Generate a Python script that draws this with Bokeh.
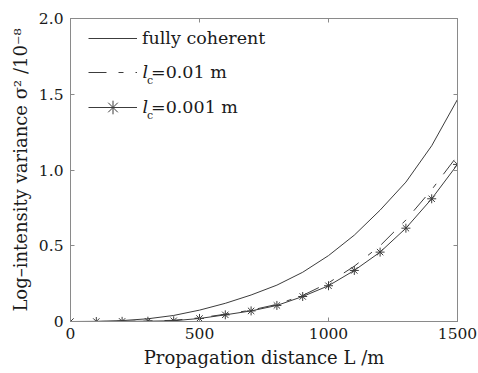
from bokeh.plotting import figure
from bokeh.models import (Range1d, FixedTicker, LinearAxis, Legend, LegendItem, Label,
                          CustomJSTickFormatter)
from bokeh.embed import file_html
from bokeh.resources import INLINE

# ---- data ----
distance = [0, 100, 200, 300, 400, 500, 600, 700, 800, 900, 1000, 1100, 1200, 1300, 1400, 1500]
fully_coherent = [0, 0.001, 0.006, 0.018, 0.04, 0.075, 0.12, 0.175, 0.24, 0.325, 0.435, 0.57, 0.735, 0.92, 1.16, 1.466]
lc_001 = [0, 0, 0.001, 0.003, 0.008, 0.024, 0.048, 0.075, 0.113, 0.172, 0.255, 0.365, 0.5, 0.67, 0.87, 1.095]
lc_0001 = [0, 0, 0.001, 0.002, 0.005, 0.02, 0.044, 0.07, 0.106, 0.165, 0.236, 0.337, 0.458, 0.616, 0.81, 1.037]
x_ticks = [0, 500, 1000, 1500]
y_ticks = [0, 0.5, 1.0, 1.5, 2.0]
y_tick_labels = {0: "0", 0.5: "0.5", 1: "1.0", 1.5: "1.5", 2: "2.0"}
legend_labels = ["fully coherent", "=0.01 m", "=0.001 m"]

FONT = "DejaVu Serif"
LINE = "#3c3c3c"
AXIS = "#8a8a8a"
TEXT = "#1a1a1a"

p = figure(width=477, height=372, output_backend="svg", toolbar_location=None,
           x_range=Range1d(0, 1500), y_range=Range1d(0, 2.0),
           min_border_left=70, min_border_right=20, min_border_top=18, min_border_bottom=51)
p.grid.visible = False
p.outline_line_color = AXIS
p.background_fill_color = "white"

for ax in [p.xaxis[0], p.yaxis[0]]:
    ax.axis_line_color = AXIS
    ax.major_tick_line_color = AXIS
    ax.major_tick_in = 4
    ax.major_tick_out = 0
    ax.minor_tick_line_color = None
    ax.major_label_text_font = FONT
    ax.major_label_text_font_size = "15.5px"
    ax.major_label_text_color = TEXT
    ax.axis_label_text_font = FONT
    ax.axis_label_text_font_size = "18px"
    ax.axis_label_text_font_style = "normal"
    ax.axis_label_text_color = TEXT

p.xaxis.ticker = FixedTicker(ticks=x_ticks)
p.yaxis.ticker = FixedTicker(ticks=y_ticks)
p.yaxis.major_label_overrides = y_tick_labels
p.xaxis.major_label_standoff = 6
p.yaxis.major_label_standoff = 7
p.xaxis.axis_label = "Propagation distance L /m"
p.yaxis.axis_label = "Log\u2013intensity variance \u03c3\u00b2 /10\u207b\u2078"
p.xaxis.axis_label_standoff = 5
p.yaxis.axis_label_standoff = 5

# box ticks on right and top (no labels)
blank = CustomJSTickFormatter(code="return ''")
right = LinearAxis(ticker=FixedTicker(ticks=y_ticks), formatter=blank,
                   axis_line_color=AXIS, major_tick_line_color=AXIS, major_tick_in=4,
                   major_tick_out=0, minor_tick_line_color=None, major_label_standoff=0)
top = LinearAxis(ticker=FixedTicker(ticks=x_ticks), formatter=blank,
                 axis_line_color=AXIS, major_tick_line_color=AXIS, major_tick_in=4,
                 major_tick_out=0, minor_tick_line_color=None, major_label_standoff=0)
p.add_layout(right, "right")
p.add_layout(top, "above")

r1 = p.line(distance, fully_coherent, line_color=LINE, line_width=1)
r2 = p.line(distance, lc_001, line_color=LINE, line_width=1, line_dash="18 12 5 12")
r3 = p.line(distance, lc_0001, line_color=LINE, line_width=1)
r3s = p.scatter(distance, lc_0001, marker="asterisk", size=9, line_color=LINE, line_width=1)

common = dict(padding=0, margin=0, spacing=1, glyph_height=34, label_height=34, glyph_width=49,
              label_text_font=FONT, label_text_font_size="17.5px", label_text_color=TEXT,
              border_line_alpha=0, background_fill_alpha=0)
legA = Legend(items=[LegendItem(label=legend_labels[0], renderers=[r1])],
              location=(18, 266), label_standoff=5, **common)
legB = Legend(items=[LegendItem(label=legend_labels[1], renderers=[r2]),
                     LegendItem(label=legend_labels[2], renderers=[r3, r3s])],
              location=(18, 197), label_standoff=14, **common)
p.add_layout(legA, "center")
p.add_layout(legB, "center")

H = 303
for yc in (H - 53, H - 88):
    p.add_layout(Label(x=72, y=yc, x_units="screen", y_units="screen", text="l",
                       text_font=FONT, text_font_style="italic", text_font_size="17.5px",
                       text_baseline="middle", text_color=TEXT))
    p.add_layout(Label(x=76.5, y=yc - 9, x_units="screen", y_units="screen", text="c",
                       text_font=FONT, text_font_size="11px", text_baseline="middle", text_color=TEXT))

open("out.html", "w").write(file_html(p, INLINE))
